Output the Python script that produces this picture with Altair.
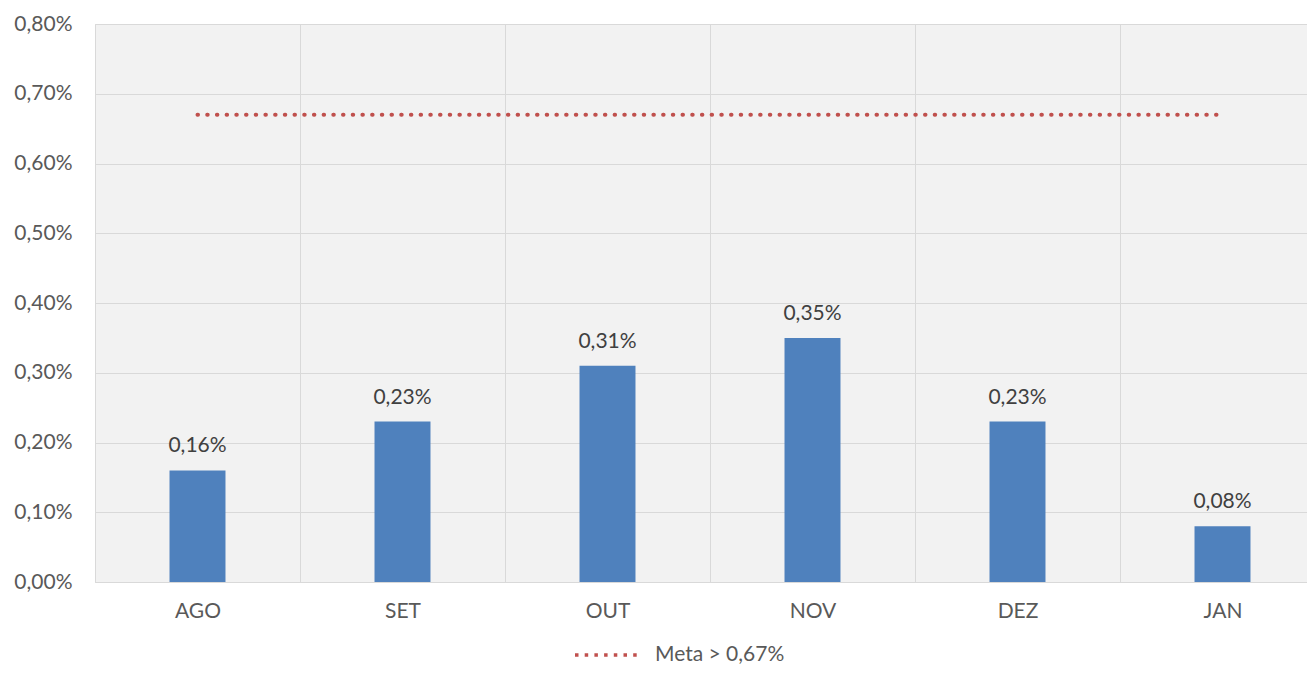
import altair as alt
import pandas as pd

months = ["AGO", "SET", "OUT", "NOV", "DEZ", "JAN"]
values_pct = [0.16, 0.23, 0.31, 0.35, 0.23, 0.08]
meta_pct = [0.67, 0.67, 0.67, 0.67, 0.67, 0.67]
y_ticks_pct = [0.0, 0.1, 0.2, 0.3, 0.4, 0.5, 0.6, 0.7, 0.8]
meta_label = "Meta > 0,67%"

df = pd.DataFrame({
    "mes": months,
    "valor": [v / 100 for v in values_pct],
    "meta": [m / 100 for m in meta_pct],
    "serie": [meta_label] * len(months),
})

FONT = "Lato"
GRID = "#d9d9d9"
LABEL = "#595959"

x = alt.X(
    "mes:N", sort=months,
    scale=alt.Scale(paddingInner=0, paddingOuter=0),
    axis=alt.Axis(title=None, labelAngle=0, ticks=False, domain=True, domainColor=GRID,
                  grid=True, gridColor=GRID, tickBand="extent", labelPadding=18,
                  labelFontSize=21, labelColor=LABEL, labelFont=FONT),
)
yscale = alt.Scale(domain=[0, y_ticks_pct[-1] / 100])
yaxis = alt.Axis(title=None, values=[t / 100 for t in y_ticks_pct], format=".2%",
                 domain=False, ticks=False, labelPadding=23, gridColor=GRID,
                 labelFontSize=21, labelColor=LABEL, labelFont=FONT)

base = alt.Chart(df)

bars = base.mark_bar(color="#4F81BD", width=alt.RelativeBandSize(0.273)).encode(
    x=x, y=alt.Y("valor:Q", scale=yscale, axis=yaxis)
)

labels = base.mark_text(baseline="alphabetic", dy=-18, fontSize=21, color="#404040", font=FONT).encode(
    x=x, y=alt.Y("valor:Q", scale=yscale), text=alt.Text("valor:Q", format=".2%")
)

line = base.mark_line(strokeDash=[0.5, 9.2], strokeCap="round", strokeWidth=4).encode(
    x=x, y=alt.Y("meta:Q", scale=yscale),
    color=alt.Color("serie:N", scale=alt.Scale(range=["#C0504D"]),
                    legend=alt.Legend(title=None, orient="none", legendX=478, legendY=597,
                                      symbolType="stroke", symbolSize=4096,
                                      symbolStrokeWidth=3.5, symbolDash=[3.5, 6.2],
                                      labelOffset=14, labelFontSize=21, labelColor=LABEL,
                                      labelFont=FONT, padding=0)),
)

chart = alt.layer(bars, labels, line).properties(
    width=1230, height=558,
    autosize=alt.AutoSizeParams(type="none"),
    padding={"left": 87, "top": 16, "right": -18, "bottom": 85},
).configure(
    locale={"number": {"decimal": ",", "thousands": ".", "grouping": [3], "currency": ["R$", ""]}}
).configure_view(fill="#f2f2f2", stroke=GRID)

chart.save("out.html", embed_options={"renderer": "svg", "actions": False})
